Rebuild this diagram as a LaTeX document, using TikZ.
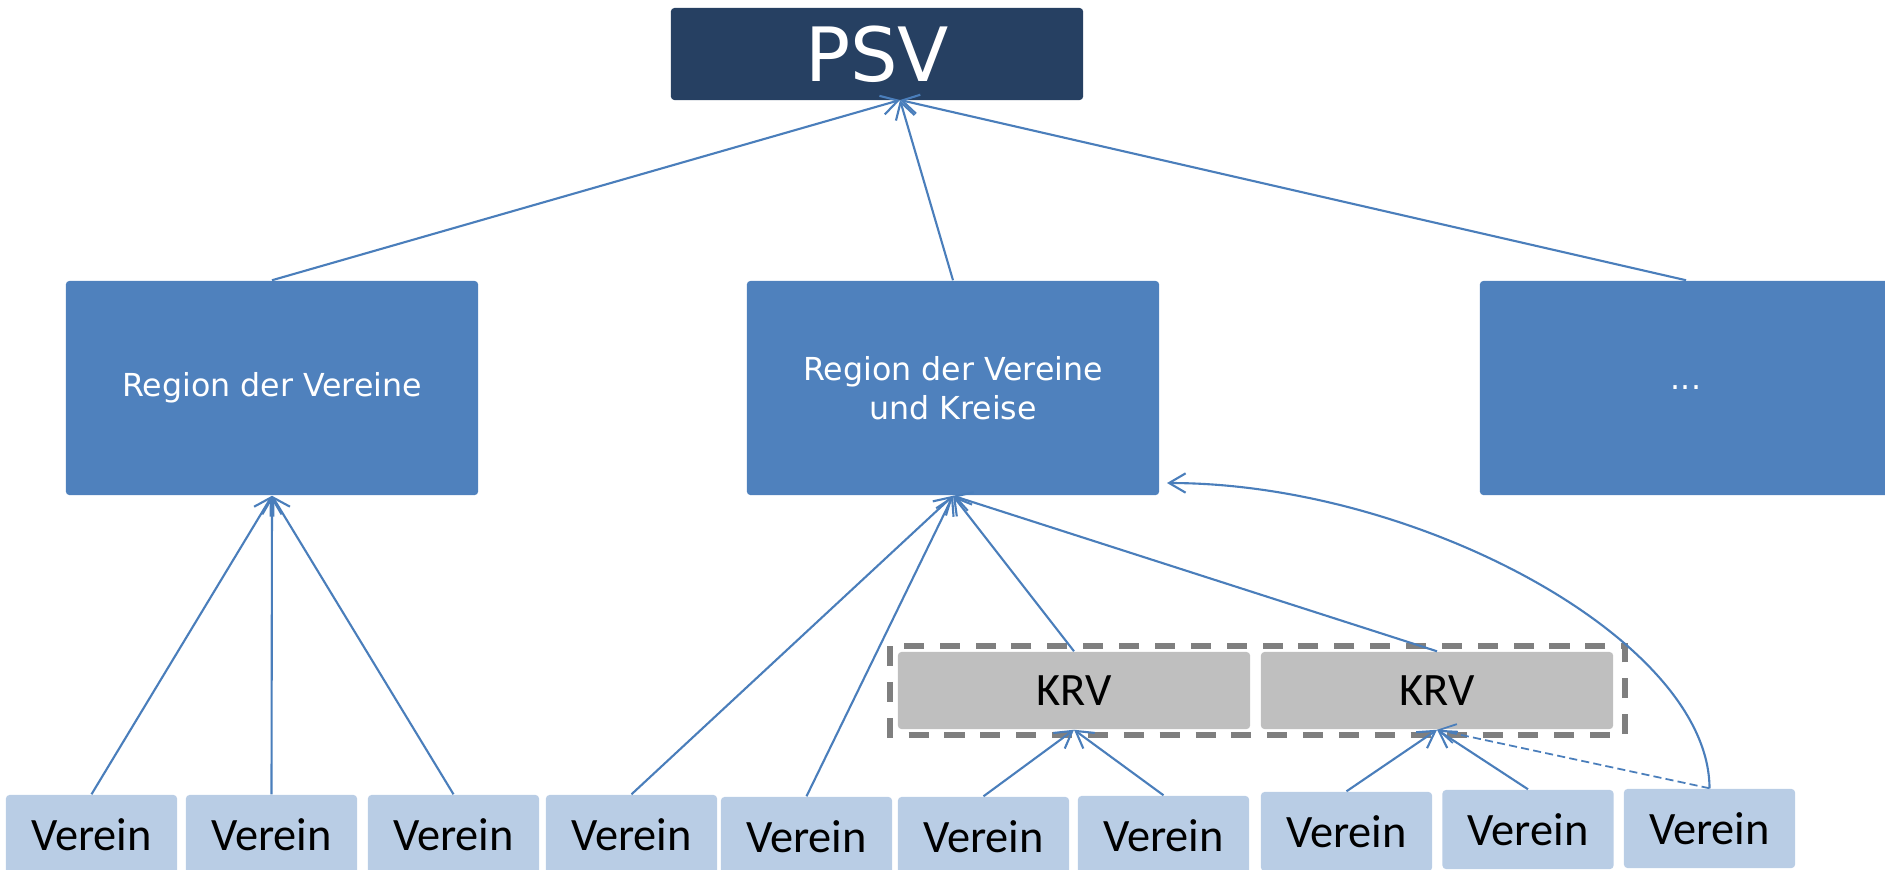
\documentclass[tikz,border=0pt]{standalone}
\usepackage{fontspec}
\setmainfont{Carlito}
\newfontfamily\verdana{DejaVu Sans}
\usetikzlibrary{arrows.meta}
\definecolor{psvblue}{RGB}{38,64,98}
\definecolor{regionblue}{RGB}{79,129,189}
\definecolor{vereinblue}{RGB}{185,205,229}
\definecolor{krvgray}{RGB}{191,191,191}
\definecolor{linkblue}{RGB}{74,126,187}
\definecolor{framegray}{RGB}{127,127,127}

\begin{document}
\begin{tikzpicture}[x = 0.01cm, y = -0.01cm]
\tikzstyle{PSVStyle}=[shape = rectangle, rounded corners = 1pt,
                         fill = psvblue, text = white, inner sep = 0pt,
                         minimum width = 4.12cm, minimum height = 0.92cm,
                         font = \verdana\fontsize{21.3}{25}\selectfont]
\tikzstyle{RegionStyle}=[shape = rectangle, rounded corners = 1pt,
                         fill = regionblue, text = white, inner sep = 0pt, align = center,
                         minimum width = 4.12cm, minimum height = 2.14cm,
                         font = \verdana\fontsize{9}{11.1}\selectfont]
\tikzstyle{KRVStyle}=[shape = rectangle, rounded corners = 1pt,
                         fill = krvgray, inner sep = 0pt,
                         minimum width = 3.52cm, minimum height = 0.77cm,
                         font = \fontsize{13.2}{15}\selectfont]
\tikzstyle{VereinStyle}=[shape = rectangle, rounded corners = 1pt,
                         fill = vereinblue, inner sep = 0pt,
                         minimum width = 1.71cm, minimum height = 0.79cm,
                         font = \fontsize{13.2}{15}\selectfont]
\tikzstyle{EdgeStyle}=[draw = linkblue, line width = 0.6pt,
                         -{Straight Barb[length = 4.7pt, width = 5.5pt]}]
\useasboundingbox (0,0) rectangle (1885,869);
% top and regions
\node[PSVStyle] (p0) at (877,54) {PSV};
\node[RegionStyle] (r0) at (272,388) {Region der Vereine};
\node[RegionStyle] (r1) at (953,388) {Region der Vereine\\und Kreise};
\node[RegionStyle] (r2) at (1686,388) {...};
% Kreise
\draw[framegray, line width = 1.6pt, dash pattern = on 5.7pt off 4.5pt] (890,646) rectangle (1625,735);
\node[KRVStyle] (k0) at (1074,690.5) {KRV};
\node[KRVStyle] (k1) at (1437,690.5) {KRV};
% Vereine
\node[VereinStyle] (v0) at (91.5,834.5) {Verein};
\node[VereinStyle] (v1) at (271.5,834.5) {Verein};
\node[VereinStyle] (v2) at (453.5,834.5) {Verein};
\node[VereinStyle] (v3) at (631.5,834.5) {Verein};
\node[VereinStyle] (v4) at (806.5,836.5) {Verein};
\node[VereinStyle] (v5) at (983.5,836.5) {Verein};
\node[VereinStyle] (v6) at (1163.5,835.5) {Verein};
\node[VereinStyle] (v7) at (1346.5,831.5) {Verein};
\node[VereinStyle] (v8) at (1528,829.5) {Verein};
\node[VereinStyle] (v9) at (1709.5,828.5) {Verein};
\coordinate (t0) at (900,100);
\coordinate (t1) at (1167,483);
\draw[EdgeStyle] (r0.north) -- (t0);
\draw[EdgeStyle] (r1.north) -- (t0);
\draw[EdgeStyle] (r2.north) -- (t0);
\draw[EdgeStyle] (v0.north) -- (r0.south);
\draw[EdgeStyle] (v1.north) -- (r0.south);
\draw[EdgeStyle] (v2.north) -- (r0.south);
\draw[EdgeStyle] (v3.north) -- (r1.south);
\draw[EdgeStyle] (v4.north) -- (r1.south);
\draw[EdgeStyle] (k0.north) -- (r1.south);
\draw[EdgeStyle] (k1.north) -- (r1.south);
\draw[EdgeStyle] (v5.north) -- (k0.south);
\draw[EdgeStyle] (v6.north) -- (k0.south);
\draw[EdgeStyle] (v7.north) -- (k1.south);
\draw[EdgeStyle] (v8.north) -- (k1.south);
\draw[EdgeStyle, line width = 0.5pt, dash pattern = on 2.3pt off 1.2pt] (v9.north) -- (k1.south);
\draw[EdgeStyle] (v9.north) .. controls (1709,640) and (1417,483) .. (t1);
\end{tikzpicture}
\end{document}
